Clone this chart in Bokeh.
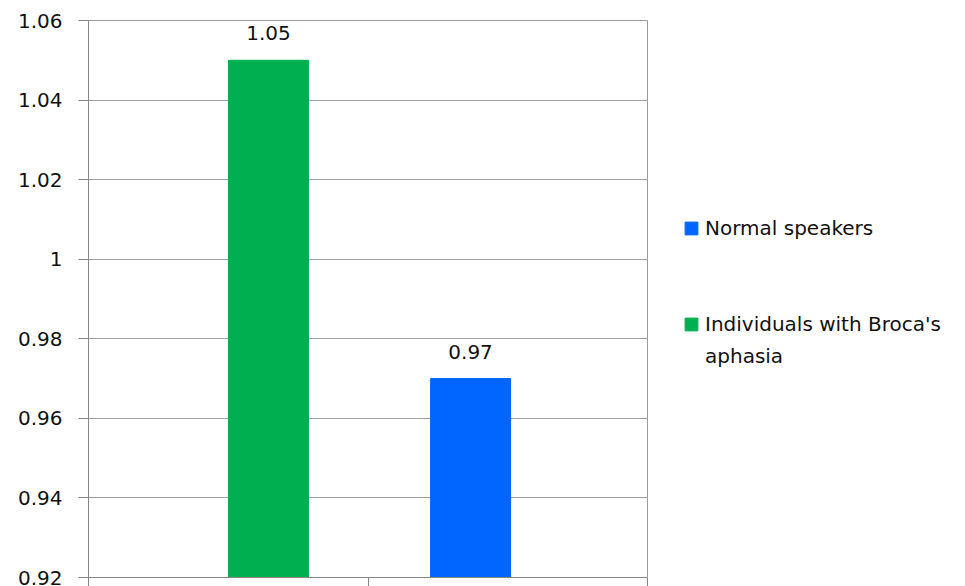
from bokeh.plotting import figure
from bokeh.models import (ColumnDataSource, Range1d, FixedTicker, NumeralTickFormatter,
                          Legend, LegendItem)
from bokeh.core.properties import value
from bokeh.embed import file_html
from bokeh.resources import INLINE

# ---- data ----
series = ["Individuals with Broca's aphasia", "Normal speakers"]
values = [1.05, 0.97]
colors = ["#00B050", "#0066FF"]
y_ticks = [0.92, 0.94, 0.96, 0.98, 1.0, 1.02, 1.04, 1.06]
value_labels = ["1.05", "0.97"]
legend_lines = ["Normal speakers", "Individuals with Broca's", "aphasia"]

# ---- layout constants ----
BAR_X = [0.644, 1.367]
BAR_W = 0.286
FONT = "DejaVu Sans"
TEXT_COLOR = "#111111"

src = ColumnDataSource(dict(x=BAR_X, top=values, color=colors, label=value_labels,
                            name=series))

p = figure(frame_width=559, frame_height=557, output_backend="svg", toolbar_location=None,
           x_range=Range1d(0, 2), y_range=Range1d(y_ticks[0], y_ticks[-1]),
           min_border_left=88, min_border_right=318, min_border_top=20, min_border_bottom=9)
p.background_fill_color = "white"
p.border_fill_color = "white"
p.outline_line_color = "#9a9a9a"
p.outline_line_width = 1

bars = p.vbar(x="x", top="top", bottom=y_ticks[0], width=BAR_W, color="color",
              line_color="color", source=src)

# transparent renderer used for blank / continuation legend rows
blank = p.vbar(x=[], top=[], width=BAR_W, fill_alpha=0, line_alpha=0)

p.text(x="x", y="top", text="label", source=src, text_align="center",
       text_baseline="bottom", y_offset=-20, text_font=value(FONT),
       text_font_size="20px", text_color=TEXT_COLOR)

# y axis
yax = p.yaxis[0]
yax.ticker = FixedTicker(ticks=y_ticks)
yax.formatter = NumeralTickFormatter(format="0.[00]")
yax.axis_line_color = "#868686"
yax.major_tick_line_color = "#868686"
yax.major_tick_out = 10
yax.major_tick_in = 0
yax.minor_tick_line_color = None
yax.major_label_standoff = 16
yax.major_label_text_font = FONT
yax.major_label_text_font_size = "20px"
yax.major_label_text_color = TEXT_COLOR

# x axis
xax = p.xaxis[0]
xax.ticker = FixedTicker(ticks=[0, 1, 2])
xax.major_label_overrides = {0: "", 1: "", 2: ""}
xax.major_label_text_font_size = "0px"
xax.major_label_standoff = 0
xax.axis_line_color = "#868686"
xax.major_tick_line_color = "#868686"
xax.major_tick_out = 9
xax.major_tick_in = 0
xax.minor_tick_line_color = None

p.xgrid.grid_line_color = None
p.ygrid.ticker = FixedTicker(ticks=y_ticks)
p.ygrid.grid_line_color = "#a0a0a0"
p.ygrid.grid_line_width = 1

legend = Legend(items=[
    LegendItem(label=legend_lines[0], renderers=[bars], index=1),
    LegendItem(label=" ", renderers=[blank]),
    LegendItem(label=" ", renderers=[blank]),
    LegendItem(label=legend_lines[1], renderers=[bars], index=0),
    LegendItem(label=legend_lines[2], renderers=[blank]),
], location=(36, 208))
legend.padding = 0
legend.margin = 0
legend.border_line_color = None
legend.background_fill_alpha = 0
legend.glyph_width = 16
legend.glyph_height = 16
legend.label_standoff = 6
legend.label_height = 26
legend.spacing = 6
legend.label_text_font = FONT
legend.label_text_font_size = "20px"
legend.label_text_color = TEXT_COLOR
p.add_layout(legend, "right")

open("out.html", "w").write(file_html(p, INLINE))
